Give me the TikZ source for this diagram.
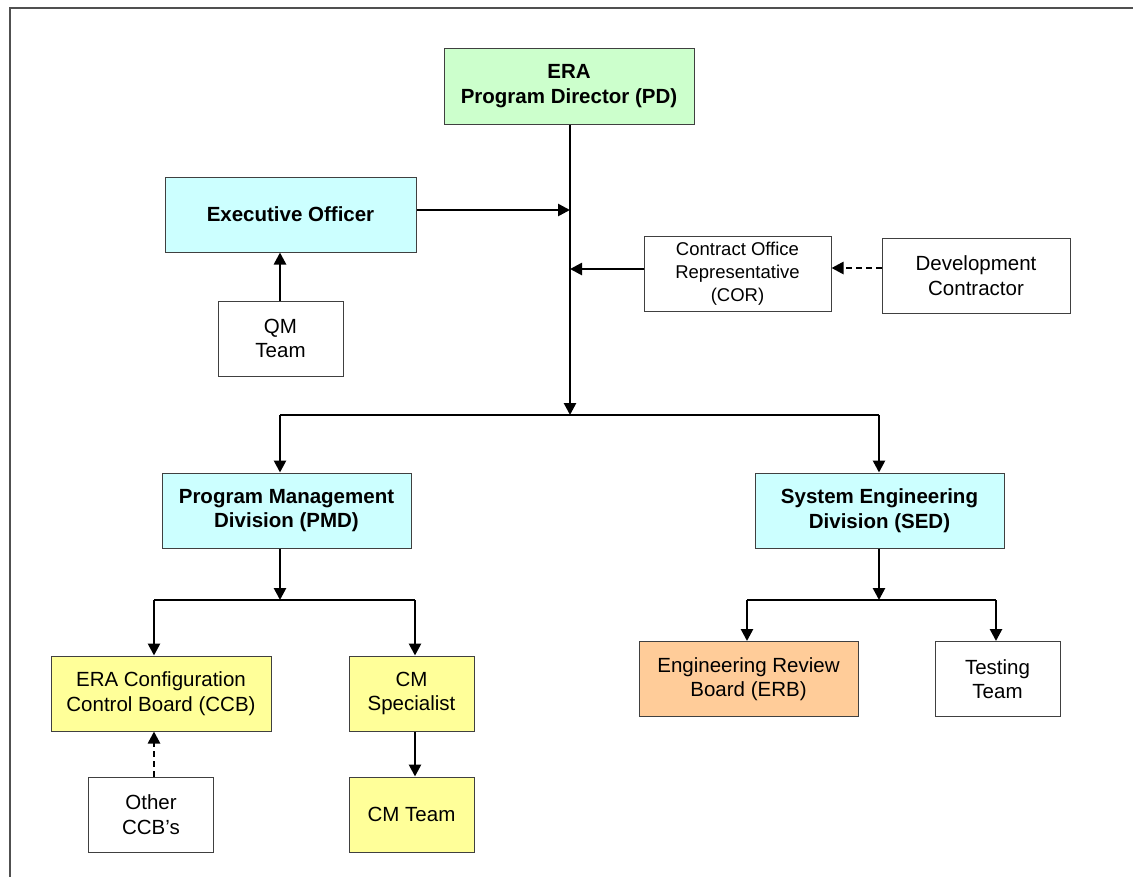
\documentclass[tikz,border=0pt]{standalone}
\usepackage{fontspec}
\setmainfont{Liberation Sans}
\usetikzlibrary{arrows.meta}
\definecolor{pdgreen}{HTML}{CCFFCC}
\definecolor{divcyan}{HTML}{CCFFFF}
\definecolor{ccbyellow}{HTML}{FFFF99}
\definecolor{erborange}{HTML}{FFCC99}
\definecolor{boxline}{HTML}{404040}
\definecolor{frameline}{HTML}{505050}
\tikzset{
  x=1pt, y=-1pt,
  orgbox/.style={draw=boxline, line width=1pt, fill=white, align=center,
    inner sep=2pt, minimum height=75pt,
    font=\fontsize{20.5}{24.5}\selectfont},
  smallbox/.style={orgbox, font=\fontsize{18.5}{23}\selectfont},
  headbox/.style={orgbox, font=\bfseries\fontsize{20.5}{24.5}\selectfont},
  link/.style={line width=2.6pt, -{Triangle[length=12pt,width=12pt]}},
  dashlink/.style={link, dash pattern=on 6pt off 4pt},
  branch/.style={line width=1.6pt}
}
\begin{document}
\begin{tikzpicture}
\useasboundingbox (0,0) rectangle (1133,876);
% page frame, cut by the right and bottom edges
\draw[frameline, line width=2.4pt] (10,880) -- (10,8) -- (1140,8);

% boxes
\node[headbox, fill=pdgreen, minimum width=250pt, minimum height=76pt] (pd) at (569,86) {ERA\\Program Director (PD)};
\node[headbox, fill=divcyan, minimum width=251pt] (eo) at (290.5,214.5) {Executive Officer};
\node[orgbox, minimum width=125pt] (qm) at (280.5,338.5) {QM\\Team};
\node[smallbox, minimum width=187pt] (cor) at (737.5,273.5) {Contract Office\\Representative\\(COR)};
\node[orgbox, minimum width=188pt] (dev) at (976,275.5) {Development\\Contractor};
\node[headbox, fill=divcyan, minimum width=249pt] (pmd) at (286.5,510.5) {Program Management\\Division (PMD)};
\node[headbox, fill=divcyan, minimum width=249pt] (sed) at (879.5,510.5) {System Engineering\\Division (SED)};
\node[orgbox, fill=ccbyellow, minimum width=220pt] (ccb) at (161,693.5) {ERA Configuration\\Control Board (CCB)};
\node[orgbox, fill=ccbyellow, minimum width=125pt] (cms) at (411.5,693.5) {CM\\Specialist};
\node[orgbox, minimum width=125pt] (occb) at (151,814.5) {Other\\CCB’s};
\node[orgbox, fill=ccbyellow, minimum width=125pt] (cmt) at (411.5,814.5) {CM Team};
\node[orgbox, fill=erborange, minimum width=219pt] (erb) at (748.5,679) {Engineering Review\\Board (ERB)};
\node[orgbox, minimum width=125pt] (test) at (997.5,679) {Testing\\Team};

% junction points on the connector lines
\coordinate (trunk) at (570,415);
\coordinate (eoin) at (570,210);
\coordinate (corin) at (570,269);
\coordinate (topL) at (280,415);
\coordinate (topR) at (879,415);
\coordinate (pmdj) at (280,600);
\coordinate (pmdL) at (154,600);
\coordinate (pmdR) at (415,600);
\coordinate (sedj) at (879,600);
\coordinate (sedL) at (747,600);
\coordinate (sedR) at (996,600);

% director trunk and its inputs
\draw[link] (pd.south -| trunk) -- (trunk);
\draw[link] (eo.east |- eoin) -- (eoin);
\draw[link] (cor.west |- corin) -- (corin);
\draw[dashlink] (dev.west |- 0,268) -- (cor.east |- 0,268);
\draw[link] (qm.north -| 280,0) -- (eo.south -| 280,0);

% divisions
\draw[branch] (topL) -- (topR);
\draw[link] (topL) -- (pmd.north -| topL);
\draw[link] (topR) -- (sed.north -| topR);

% program management branch
\draw[link] (pmd.south -| pmdj) -- (pmdj);
\draw[branch] (pmdL) -- (pmdR);
\draw[link] (pmdL) -- (ccb.north -| pmdL);
\draw[link] (pmdR) -- (cms.north -| pmdR);
\draw[link] (cms.south -| pmdR) -- (cmt.north -| pmdR);
\draw[dashlink] (occb.north -| pmdL) -- (ccb.south -| pmdL);

% system engineering branch
\draw[link] (sed.south -| sedj) -- (sedj);
\draw[branch] (sedL) -- (sedR);
\draw[link] (sedL) -- (erb.north -| sedL);
\draw[link] (sedR) -- (test.north -| sedR);
\end{tikzpicture}
\end{document}
